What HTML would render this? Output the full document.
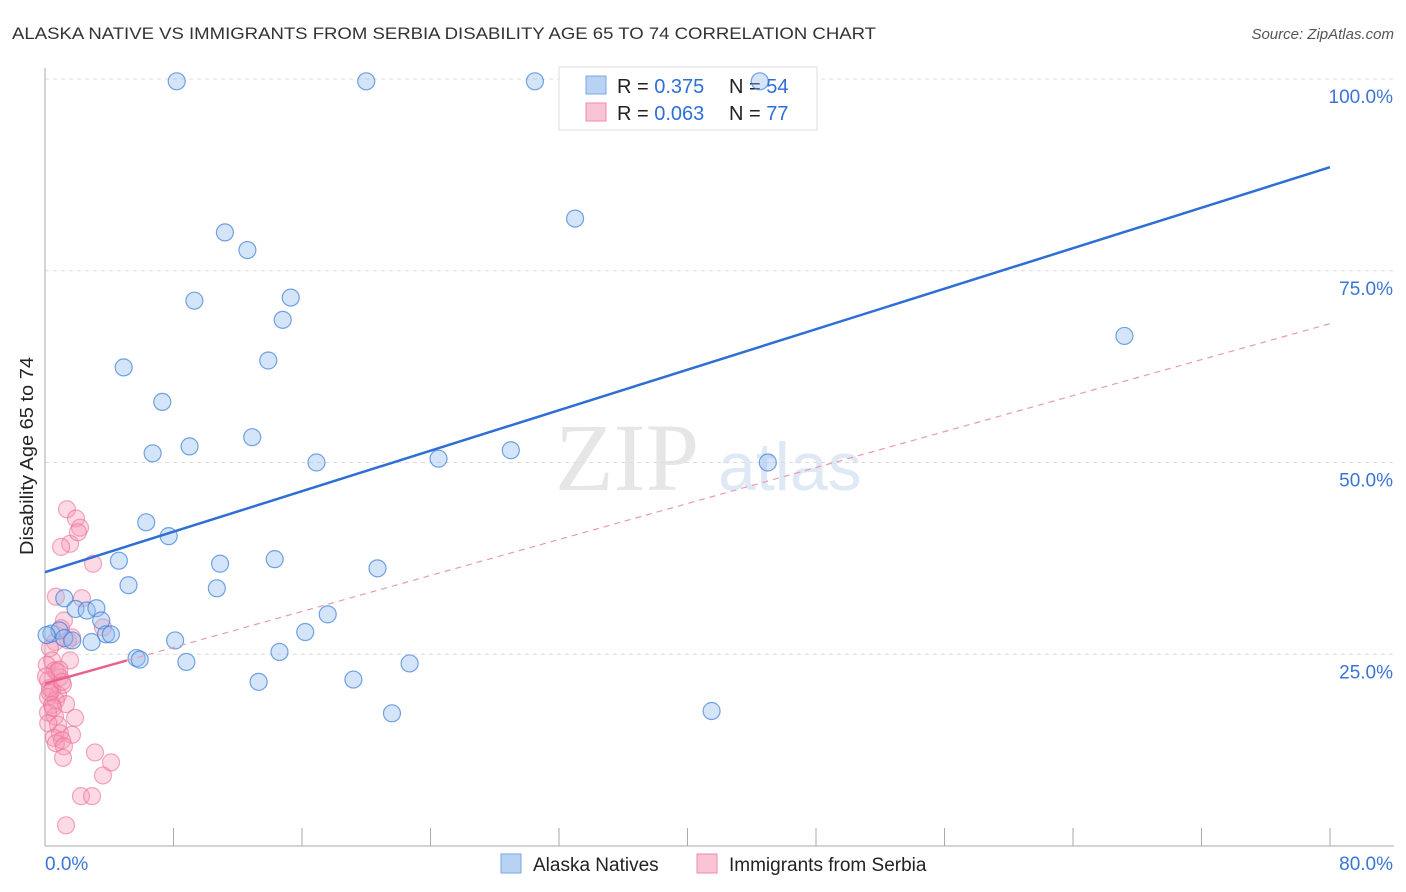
<!DOCTYPE html>
<html><head><meta charset="utf-8"><style>
body{margin:0;background:#fff;font-family:"Liberation Sans",sans-serif}
svg{display:block}
</style></head><body>
<svg id="c" width="1406" height="892">
<text x="12" y="39" font-size="17" fill="#333" textLength="864" lengthAdjust="spacingAndGlyphs">ALASKA NATIVE VS IMMIGRANTS FROM SERBIA DISABILITY AGE 65 TO 74 CORRELATION CHART</text>
<text x="1394" y="39" font-size="15" fill="#555" font-style="italic" text-anchor="end">Source: ZipAtlas.com</text>
<text x="33" y="456" font-size="18" fill="#222" text-anchor="middle" textLength="198" lengthAdjust="spacingAndGlyphs" transform="rotate(-90 33 456)">Disability Age 65 to 74</text>
<text x="555" y="490" font-size="96" fill="#e6e6e6" font-family="Liberation Serif,serif">ZIP</text>
<text x="718" y="490" font-size="68" fill="#dfe8f5">atlas</text>
<g id="grid"></g><g id="axes"></g>
<g>
<rect x="559" y="67" width="258" height="63" fill="#fff" stroke="#ddd"/>
<rect x="586" y="76" width="20" height="18" fill="#b8d2f3" stroke="#7aa7e0"/>
<rect x="586" y="103" width="20" height="18" fill="#f9c4d3" stroke="#f08aab"/>
<text x="617" y="93" font-size="20" fill="#222">R = <tspan fill="#2d6fd6">0.375</tspan><tspan x="729">N = </tspan><tspan fill="#2d6fd6">54</tspan></text>
<text x="617" y="120" font-size="20" fill="#222">R = <tspan fill="#2d6fd6">0.063</tspan><tspan x="729">N = </tspan><tspan fill="#2d6fd6">77</tspan></text>
</g>
<g id="pts"></g><g id="lines"></g>
<g>
<rect x="501" y="854" width="20" height="19" fill="#b8d2f3" stroke="#7aa7e0"/>
<text x="533" y="871" font-size="19" fill="#222">Alaska Natives</text>
<rect x="697" y="854" width="20" height="19" fill="#f9c4d3" stroke="#f08aab"/>
<text x="729" y="871" font-size="19" fill="#222">Immigrants from Serbia</text>
</g>
</svg>
<script>
const blueX=[8.2,20.0,30.5,44.5,33.0,11.2,12.6,9.3,15.3,14.8,4.9,13.9,7.3,12.9,9.0,6.7,16.9,24.5,29.0,45.0,67.2,6.3,7.7,4.6,10.9,14.3,5.2,10.7,20.7,1.2,1.9,2.6,3.2,3.5,17.6,0.4,0.9,1.2,1.7,2.9,3.8,4.1,16.2,8.1,5.7,5.9,8.8,14.6,13.3,19.2,22.7,21.6,41.5,0.1];
const blueY=[99.7,99.7,99.7,99.7,81.8,80.0,77.7,71.1,71.5,68.6,62.4,63.3,57.9,53.3,52.1,51.2,50.0,50.5,51.6,50.0,66.5,42.2,40.4,37.2,36.8,37.4,34.0,33.6,36.2,32.3,30.9,30.7,31.0,29.4,30.2,27.7,28.1,27.1,26.8,26.6,27.6,27.6,27.9,26.8,24.5,24.3,24.0,25.3,21.4,21.7,23.8,17.3,17.6,27.5];
const pinkX=[1.37,1.56,1.0,1.93,2.18,2.05,2.99,0.68,2.3,1.18,1.0,1.68,1.43,3.61,0.62,0.31,1.56,0.44,0.12,0.62,0.93,0.19,1.12,0.44,0.81,0.19,0.68,1.31,0.44,1.87,0.62,0.19,0.81,0.93,0.56,1.68,1.06,0.68,1.18,3.11,1.12,3.61,4.11,2.24,2.93,1.31,0.31,0.75,0.06,1.06,0.3,0.5,0.9,0.2];
const pinkY=[43.9,39.4,39.0,42.7,41.5,40.9,36.8,32.5,32.3,29.4,28.4,27.2,26.8,28.5,26.6,25.8,24.2,24.2,23.6,22.9,22.0,21.6,21.0,20.3,19.7,19.4,19.0,18.5,18.4,16.7,16.9,17.4,15.8,14.7,14.1,14.5,13.8,13.4,13.0,12.2,11.5,9.2,10.9,6.5,6.5,2.7,20.6,22.7,22.1,21.4,20.0,18.0,23.0,16.0];
const yTicks=[25,50,75,100];
const yTickLabels=["25.0%","50.0%","75.0%","100.0%"];
const xTicks=[0,8,16,24,32,40,48,56,64,72,80];
const blueTrend=[35.7,88.5];
const pinkTrend=[21.2,68.1];
const pinkSolidEnd=5.1;
const NS="http://www.w3.org/2000/svg";
const sx=v=>45+v/80*1285;
const sy=v=>846-v/100*767;
function mk(t,a,p){const e=document.createElementNS(NS,t);for(const k in a)e.setAttribute(k,a[k]);p.appendChild(e);return e;}
const g=document.getElementById('grid'),ax=document.getElementById('axes'),pts=document.getElementById('pts'),ln=document.getElementById('lines');
yTicks.forEach((t,i)=>{
 const l=mk('line',{x1:45,x2:1394,y1:sy(t),y2:sy(t),stroke:'#ddd','stroke-dasharray':'4,4'},g);
 
 
 const tx=mk('text',{x:1393,y:sy(t)+24,'font-size':19,fill:'#3a75d6','text-anchor':'end'},g);
 tx.textContent=yTickLabels[i];
 
 
});
mk('line',{x1:45,x2:45,y1:68,y2:846,stroke:'#aaa'},ax);
mk('line',{x1:45,x2:1394,y1:846,y2:846,stroke:'#aaa'},ax);
xTicks.forEach(t=>{const l=mk('line',{x1:sx(t),x2:sx(t),y1:828,y2:846,stroke:'#aaa'},ax);
 
 });
let t0=mk('text',{x:45,y:870,'font-size':19,fill:'#3a75d6'},ax);t0.textContent='0.0%';


let t1=mk('text',{x:1393,y:870,'font-size':19,fill:'#3a75d6','text-anchor':'end'},ax);t1.textContent='80.0%';


pinkX.forEach((x,i)=>{const c=mk('circle',{cx:sx(x),cy:sy(pinkY[i]),r:8.5,fill:'rgba(246,150,180,0.35)',stroke:'rgba(236,110,150,0.6)','stroke-width':1.2},pts);
 
 });
blueX.forEach((x,i)=>{const c=mk('circle',{cx:sx(x),cy:sy(blueY[i]),r:8.5,fill:'rgba(150,190,240,0.4)',stroke:'rgba(60,125,215,0.7)','stroke-width':1.2},pts);
 
 });
const pAt=x=>pinkTrend[0]+(pinkTrend[1]-pinkTrend[0])*x/80;
let d=mk('line',{x1:sx(pinkSolidEnd),y1:sy(pAt(pinkSolidEnd)),x2:sx(80),y2:sy(pinkTrend[1]),stroke:'#e99ab3','stroke-width':1.2,'stroke-dasharray':'6,5'},ln);


let s=mk('line',{x1:sx(0),y1:sy(pinkTrend[0]),x2:sx(pinkSolidEnd),y2:sy(pAt(pinkSolidEnd)),stroke:'#e8628e','stroke-width':2.5},ln);


let b=mk('line',{x1:sx(0),y1:sy(blueTrend[0]),x2:sx(80),y2:sy(blueTrend[1]),stroke:'#2f6fd3','stroke-width':2.5},ln);


</script>
</body></html>
